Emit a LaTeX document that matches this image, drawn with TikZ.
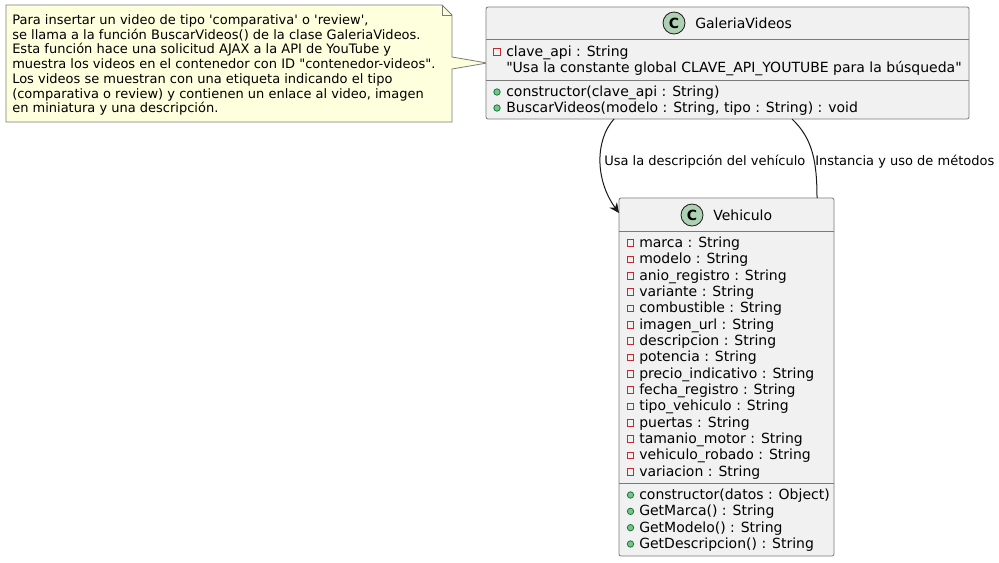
\documentclass[tikz,border=0pt]{standalone}
\usepackage{fontspec}
\newfontfamily\dv{DejaVu Sans}
\usetikzlibrary{arrows.meta}
\definecolor{clsbg}{HTML}{F1F1F1}
\definecolor{clsborder}{HTML}{7A7A7A}
\definecolor{notebg}{HTML}{FEFFDD}
\definecolor{iconC}{HTML}{ADD1B2}
\definecolor{privred}{HTML}{C82930}
\definecolor{pubfill}{HTML}{84BE84}
\definecolor{pubdraw}{HTML}{038048}
\definecolor{edgecol}{HTML}{181818}
\tikzset{
  clsbox/.style={draw=clsborder, fill=clsbg, line width=0.6pt, rounded corners=1.5pt},
  sepline/.style={draw=clsborder, line width=0.6pt},
  notebox/.style={draw=clsborder, fill=notebg, line width=0.6pt},
  ctext/.style={font=\dv\fontsize{10.5}{12}\selectfont, inner sep=0pt, anchor=base west},
  ntext/.style={font=\dv\fontsize{9.75}{11}\selectfont, inner sep=0pt, anchor=base west},
  titletext/.style={font=\dv\fontsize{10.5}{12}\selectfont, inner sep=0pt, anchor=base west},
  cicon/.style={circle, draw=edgecol, fill=iconC, line width=0.6pt, minimum size=16.5pt, inner sep=0pt, font=\dv\bfseries\fontsize{10.5}{12}\selectfont},
  privicon/.style={draw=privred, line width=0.6pt, minimum size=5pt, inner sep=0pt},
  pubicon/.style={circle, draw=pubdraw, fill=pubfill, line width=0.6pt, minimum size=4.8pt, inner sep=0pt},
  edge/.style={draw=edgecol, line width=0.75pt},
  elabel/.style={font=\dv\fontsize{9.75}{11}\selectfont, inner sep=0pt, anchor=base west}
}
\begin{document}
\begin{tikzpicture}[x=0.75pt,y=-0.75pt]
\useasboundingbox (0,0) rectangle (999,562);
\fill[white] (0,0) rectangle (999,562);

% ---------------- Note ----------------
\path[notebox] (6,5) -- (442,5) -- (452,15) -- (452,57) -- (487,63) -- (452,69) -- (452,122) -- (6,122) -- cycle;
\draw[draw=clsborder, line width=0.6pt] (442,5) -- (442,15) -- (452,15);
\foreach \t [count=\i] in {
  {Para insertar un video de tipo 'comparativa' o 'review',},
  {se llama a la función BuscarVideos() de la clase GaleriaVideos.},
  {Esta función hace una solicitud AJAX a la API de YouTube y},
  {muestra los videos en el contenedor con ID "contenedor-videos".},
  {Los videos se muestran con una etiqueta indicando el tipo},
  {(comparativa o review) y contienen un enlace al video, imagen},
  {en miniatura y una descripción.}}
  \node[ntext] (note\i) at (12, 24.5+14.7*\i-14.7) {\t};

% ---------------- GaleriaVideos ----------------
\path[clsbox] (486,7) rectangle (969,119);
\coordinate (gvtl) at (486,7);
\draw[sepline] (486,39) -- (969,39);
\draw[sepline] (486,80) -- (969,80);
\node[cicon] (gvicon) at (674,23) {C};
\node[titletext] (gvtitle) at (695,28) {GaleriaVideos};
\node[privicon] (gvp1) at (497,52) {};
\node[ctext] (gva1) at (506,56.5) {clave\_api : String};
\node[ctext] (gva2) at (506,72.5) {"Usa la constante global CLAVE\_API\_YOUTUBE para la búsqueda"};
\node[pubicon] (gvm1i) at (497,92) {};
\node[ctext] (gvm1) at (506,96.5) {constructor(clave\_api : String)};
\node[pubicon] (gvm2i) at (497,108) {};
\node[ctext] (gvm2) at (506,112.5) {BuscarVideos(modelo : String, tipo : String) : void};

% ---------------- Vehiculo ----------------
\path[clsbox] (619,198) rectangle (834,556);
\draw[sepline] (619,231) -- (834,231);
\draw[sepline] (619,483) -- (834,483);
\node[cicon] (vicon) at (692,215) {C};
\node[titletext] (vtitle) at (713,220) {Vehiculo};
\foreach \t [count=\i] in {
  {marca : String},
  {modelo : String},
  {anio\_registro : String},
  {variante : String},
  {combustible : String},
  {imagen\_url : String},
  {descripcion : String},
  {potencia : String},
  {precio\_indicativo : String},
  {fecha\_registro : String},
  {tipo\_vehiculo : String},
  {puertas : String},
  {tamanio\_motor : String},
  {vehiculo\_robado : String},
  {variacion : String}}
{
  \node[privicon] (vpi\i) at (630.5, 243+16.33*\i-16.33) {};
  \node[ctext] (va\i) at (639, 247.5+16.33*\i-16.33) {\t};
}
\foreach \t [count=\i] in {
  {constructor(datos : Object)},
  {GetMarca() : String},
  {GetModelo() : String},
  {GetDescripcion() : String}}
{
  \node[pubicon] (vmi\i) at (630.5, 495+16.33*\i-16.33) {};
  \node[ctext] (vm\i) at (639, 499.5+16.33*\i-16.33) {\t};
}

% ---------------- Connectors ----------------
\coordinate (gvout1) at (614,119);
\coordinate (vin1) at (619,213);
\coordinate (gvout2) at (792,119);
\coordinate (vin2) at (817,198);
\draw[edge, -{Stealth[length=7.5pt,width=7pt,inset=2.5pt]}] (gvout1) .. controls (595,140) and (595,180) .. (vin1);
\draw[edge] (gvout2) .. controls (812,138) and (817,160) .. (vin2);
\node[elabel] (lbl1) at (604,165.5) {Usa la descripción del vehículo};
\node[elabel] (lbl2) at (815,165.5) {Instancia y uso de métodos};
\end{tikzpicture}
\end{document}
